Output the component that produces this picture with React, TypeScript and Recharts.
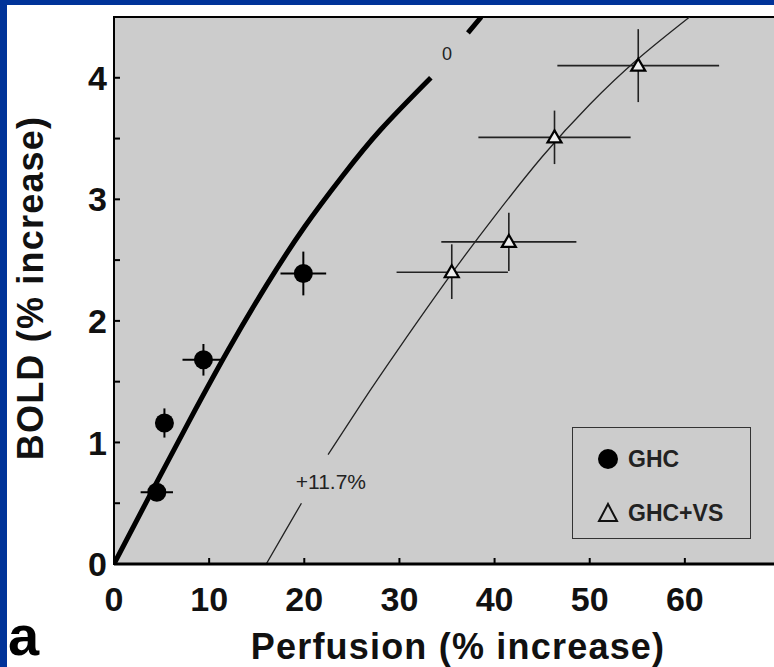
import React from 'react';
import {
  ComposedChart,
  Line,
  Scatter,
  XAxis,
  YAxis,
  ErrorBar,
  ReferenceArea,
  ReferenceDot,
  Label,
} from 'recharts';

// axis ticks
const xTicks = [0, 10, 20, 30, 40, 50, 60, 70];
const yTicks = [0, 0.5, 1, 1.5, 2, 2.5, 3, 3.5, 4, 4.5];

// measured points, ex / ey = error half-widths
const ghc = [
  { x: 4.5, y: 0.59, ex: 1.7, ey: 0.06 },
  { x: 5.3, y: 1.16, ex: 0.3, ey: 0.12 },
  { x: 9.4, y: 1.68, ex: 2.2, ey: 0.13 },
  { x: 19.9, y: 2.39, ex: 2.4, ey: 0.18 },
];

const ghcVs = [
  { x: 35.5, y: 2.4, ex: [5.8, 5.9], ey: [0.22, 0.23] },
  { x: 41.5, y: 2.65, ex: 7.1, ey: 0.24 },
  { x: 46.3, y: 3.51, ex: 8, ey: 0.22 },
  { x: 55.1, y: 4.1, ex: 8.5, ey: 0.3 },
];

// model curves, null = gap for the label
const curveZero = [
  { x: 0, y: 0 },
  { x: 4, y: 0.6 },
  { x: 8, y: 1.19 },
  { x: 12, y: 1.76 },
  { x: 16, y: 2.29 },
  { x: 20, y: 2.77 },
  { x: 24, y: 3.19 },
  { x: 28, y: 3.57 },
  { x: 33.3, y: 4.0 },
  { x: 35, y: null },
  { x: 37.2, y: 4.37 },
  { x: 38.6, y: 4.5 },
];

const curvePlus = [
  { x: 16, y: 0 },
  { x: 18, y: 0.27 },
  { x: 19.7, y: 0.5 },
  { x: 21, y: null },
  { x: 22.5, y: 0.9 },
  { x: 26, y: 1.32 },
  { x: 30, y: 1.78 },
  { x: 35.5, y: 2.39 },
  { x: 40, y: 2.86 },
  { x: 45, y: 3.35 },
  { x: 50, y: 3.78 },
  { x: 55, y: 4.15 },
  { x: 60.5, y: 4.5 },
];

const FONT = '"Liberation Sans", Arial, Helvetica, sans-serif';
const PLOT_BG = '#cccccc';

const FilledDot = (p: any) => <circle cx={p.cx} cy={p.cy} r={9.5} fill="#000" />;

const OpenTri = (p: any) => (
  <polygon
    points={`${p.cx},${p.cy - 7} ${p.cx + 7},${p.cy + 5} ${p.cx - 7},${p.cy + 5}`}
    fill="#eeeeee"
    stroke="#000"
    strokeWidth={2.2}
  />
);

const Legend = () => (
  <div
    style={{
      position: 'absolute',
      left: 572,
      top: 427,
      width: 179,
      height: 112,
      boxSizing: 'border-box',
      border: '1.5px solid #333',
      fontFamily: FONT,
      fontWeight: 'bold',
      fontSize: 23,
      color: '#222',
    }}
  >
    <svg width={179} height={112} style={{ position: 'absolute', left: -1.5, top: -1.5 }}>
      <circle cx={36} cy={32} r={10} fill="#000" />
      <polygon points="36,77 45,94 27,94" fill="none" stroke="#111" strokeWidth={2} />
    </svg>
    <div style={{ position: 'absolute', left: 55, top: 17, lineHeight: '28px' }}>GHC</div>
    <div style={{ position: 'absolute', left: 55, top: 71, lineHeight: '28px' }}>GHC+VS</div>
  </div>
);

export default function App() {
  return (
    <div
      style={{
        position: 'absolute',
        left: 0,
        top: 0,
        width: 774,
        height: 667,
        overflow: 'hidden',
        background: '#003399',
      }}
    >
      <div style={{ position: 'absolute', left: 7, top: 5, right: 0, bottom: 0, background: '#fff' }} />
      <div style={{ position: 'absolute', left: 0, top: 0 }}>
        <ComposedChart
          width={790}
          height={667}
          margin={{ top: 17, right: 10, bottom: 0, left: 0 }}
          style={{ fontFamily: FONT }}
        >
          <XAxis
            dataKey="x"
            type="number"
            domain={[0, 70]}
            ticks={xTicks}
            allowDataOverflow
            height={103}
            tickSize={-6}
            tickMargin={29}
            tickFormatter={(v: number) => (v <= 60 ? String(v) : '')}
            tick={{ fontSize: 34, fontWeight: 'bold', fill: '#111' }}
            axisLine={{ stroke: '#000', strokeWidth: 3 }}
            tickLine={{ stroke: '#000', strokeWidth: 2 }}
          >
            <Label
              content={() => (
                <text
                  x={458}
                  y={659}
                  textAnchor="middle"
                  fontSize={36}
                  fontWeight="bold"
                  letterSpacing={1.2}
                  fill="#111"
                  fontFamily={FONT}
                >
                  Perfusion (% increase)
                </text>
              )}
            />
          </XAxis>
          <XAxis
            xAxisId="top"
            orientation="top"
            type="number"
            domain={[0, 70]}
            ticks={xTicks}
            height={0}
            tickSize={-6}
            tick={false}
            axisLine={false}
            tickLine={{ stroke: '#000', strokeWidth: 2 }}
          />
          <YAxis
            dataKey="y"
            type="number"
            domain={[0, 4.5]}
            ticks={yTicks}
            allowDataOverflow
            width={114}
            tickSize={-6}
            tickMargin={13}
            tickFormatter={(v: number) => (Number.isInteger(v) ? String(v) : '')}
            tick={{ fontSize: 34, fontWeight: 'bold', fill: '#111' }}
            axisLine={{ stroke: '#000', strokeWidth: 2 }}
            tickLine={{ stroke: '#000', strokeWidth: 2 }}
          >
            <Label
              content={() => (
                <text
                  x={43}
                  y={288}
                  transform="rotate(-90 43 288)"
                  textAnchor="middle"
                  fontSize={36}
                  fontWeight="bold"
                  letterSpacing={1.2}
                  fill="#111"
                  fontFamily={FONT}
                >
                  BOLD (% increase)
                </text>
              )}
            />
          </YAxis>
          <YAxis
            yAxisId="right"
            orientation="right"
            type="number"
            domain={[0, 4.5]}
            ticks={yTicks}
            width={0}
            tickSize={-8}
            tick={false}
            axisLine={false}
            tickLine={{ stroke: '#000', strokeWidth: 2 }}
          />

          <ReferenceArea
            x1={0}
            x2={70}
            y1={0}
            y2={4.5}
            fill={PLOT_BG}
            fillOpacity={1}
            stroke="#000"
            strokeWidth={2}
            ifOverflow="visible"
          />

          <Line
            data={curveZero}
            dataKey="y"
            type="natural"
            stroke="#000"
            strokeWidth={5}
            dot={false}
            activeDot={false}
            isAnimationActive={false}
          />
          <Line
            data={curvePlus}
            dataKey="y"
            type="natural"
            stroke="#222"
            strokeWidth={1.3}
            dot={false}
            activeDot={false}
            isAnimationActive={false}
          />

          <Scatter data={ghc} shape={FilledDot} isAnimationActive={false}>
            <ErrorBar dataKey="ex" direction="x" width={0} stroke="#000" strokeWidth={2} />
            <ErrorBar dataKey="ey" direction="y" width={0} stroke="#000" strokeWidth={2} />
          </Scatter>
          <Scatter data={ghcVs} shape={OpenTri} isAnimationActive={false}>
            <ErrorBar dataKey="ex" direction="x" width={0} stroke="#222" strokeWidth={1.6} />
            <ErrorBar dataKey="ey" direction="y" width={0} stroke="#222" strokeWidth={1.6} />
          </Scatter>

          <ReferenceDot
            x={22.8}
            y={0.68}
            r={0}
            label={{ value: '+11.7%', position: 'center', fontSize: 21, fill: '#222' }}
          />
          <ReferenceDot
            x={35}
            y={4.2}
            r={0}
            label={{ value: '0', position: 'center', fontSize: 18, fill: '#222' }}
          />
        </ComposedChart>
      </div>
      <Legend />
      <div
        style={{
          position: 'absolute',
          left: 8,
          top: 604,
          fontFamily: FONT,
          fontWeight: 'bold',
          fontSize: 56,
          lineHeight: '63px',
          color: '#000',
        }}
      >
        a
      </div>
    </div>
  );
}
